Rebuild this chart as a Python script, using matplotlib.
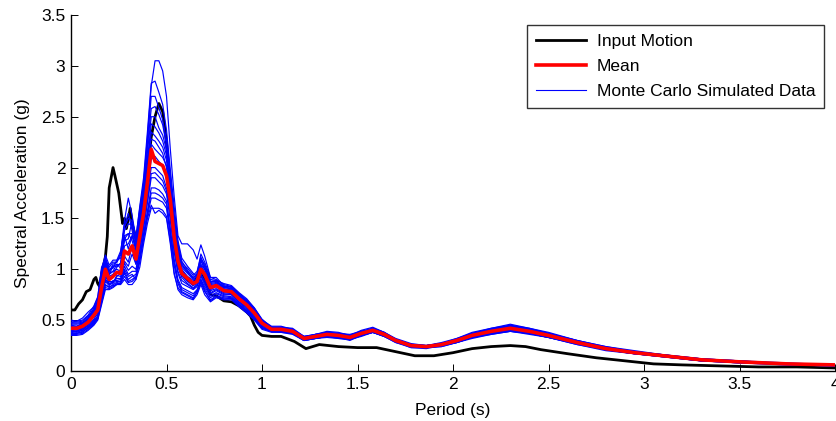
import matplotlib
matplotlib.use('Agg')
import matplotlib.pyplot as plt
import numpy as np
from matplotlib.lines import Line2D

plt.rcParams['font.family'] = ['Liberation Sans', 'DejaVu Sans']

# ---------------- data ----------------
period = [0.00, 0.03, 0.06, 0.09, 0.12, 0.14, 0.16, 0.18, 0.20, 0.22,
          0.24, 0.26, 0.28, 0.30, 0.32, 0.34, 0.36, 0.38, 0.40, 0.42,
          0.44, 0.46, 0.48, 0.50, 0.52, 0.54, 0.56, 0.58, 0.61, 0.64,
          0.66, 0.68, 0.70, 0.73, 0.76, 0.80, 0.84, 0.88, 0.92, 0.96,
          1.00,
          1.05, 1.10, 1.16, 1.22, 1.28, 1.34, 1.40, 1.46, 1.52, 1.58,
          1.64, 1.70, 1.78, 1.86, 1.94, 2.02, 2.10, 2.20, 2.30, 2.40,
          2.50, 2.65, 2.80, 2.95, 3.10, 3.30, 3.50, 3.75, 4.00]

mean_sa = [0.42, 0.42, 0.44, 0.48, 0.55, 0.60, 0.82, 1.00, 0.90, 0.93,
           0.97, 0.96, 1.18, 1.15, 1.23, 1.10, 1.32, 1.55, 1.85, 2.18,
           2.06, 2.04, 2.02, 1.92, 1.68, 1.32, 1.08, 0.96, 0.91, 0.86,
           0.88, 1.00, 0.95, 0.82, 0.84, 0.79, 0.78, 0.71, 0.65, 0.57,
           0.47,
           0.41, 0.41, 0.39, 0.32, 0.34, 0.36, 0.35, 0.33, 0.37, 0.40,
           0.36, 0.30, 0.25, 0.24, 0.26, 0.30, 0.35, 0.39, 0.42, 0.39,
           0.35, 0.28, 0.22, 0.18, 0.15, 0.11, 0.09, 0.07, 0.06]

input_period = [0.00, 0.02, 0.04, 0.06, 0.08, 0.10, 0.12, 0.13, 0.14, 0.15,
                0.16, 0.18, 0.19, 0.20, 0.22, 0.23, 0.25, 0.27, 0.28, 0.29,
                0.31, 0.32, 0.34, 0.36, 0.38, 0.40, 0.42, 0.44, 0.46, 0.48,
                0.50, 0.52, 0.54, 0.56, 0.58, 0.61, 0.64, 0.66, 0.68, 0.70,
                0.73, 0.76, 0.80, 0.84, 0.88, 0.92, 0.94, 0.96, 0.98, 1.00,
                1.05, 1.10, 1.17, 1.23, 1.30, 1.40, 1.50, 1.60, 1.70, 1.80,
                1.90, 2.00, 2.10, 2.20, 2.30, 2.38, 2.46, 2.60, 2.75, 2.90,
                3.05, 3.20, 3.40, 3.60, 3.80, 4.00]
input_sa = [0.60, 0.60, 0.66, 0.70, 0.78, 0.80, 0.90, 0.92, 0.86, 0.83,
            0.95, 1.12, 1.32, 1.80, 2.00, 1.92, 1.75, 1.45, 1.50, 1.40,
            1.60, 1.45, 1.30, 1.45, 1.70, 1.95, 2.30, 2.50, 2.63, 2.55,
            2.25, 1.80, 1.35, 1.05, 0.95, 0.90, 0.85, 0.92, 1.00, 0.90,
            0.75, 0.74, 0.69, 0.68, 0.64, 0.58, 0.54, 0.45, 0.38, 0.35,
            0.34, 0.34, 0.29, 0.22, 0.26, 0.24, 0.23, 0.23, 0.19, 0.15,
            0.15, 0.18, 0.22, 0.24, 0.25, 0.24, 0.21, 0.17, 0.13, 0.10,
            0.07, 0.06, 0.05, 0.04, 0.04, 0.03]

# Monte Carlo simulated spectra, as offsets from the mean at each period
sim01 = [0.06, 0.06, 0.05, 0.06, 0.05, 0.08, 0.10, 0.05, 0.08, 0.10, 0.06, 0.10, 0.15, 0.20, 0.12, 0.10, 0.20, 0.30, 0.45, 0.62, 0.99, 1.01, 0.93, 0.78, 0.50, 0.40, 0.25, 0.29, 0.34, 0.33, 0.22, 0.24, 0.18, 0.10, 0.06, 0.06, 0.05, 0.05, 0.04, 0.04, 0.03,
         0.03, 0.03, 0.02, 0.02, 0.02, 0.03, 0.03, 0.02, 0.03, 0.03, 0.02, 0.02, 0.02, 0.01, 0.02, 0.02, 0.03, 0.03, 0.03, 0.03, 0.02, 0.02, 0.02, 0.01, 0.01, 0.01, 0.01, 0.00, -0.01]
sim02 = [0.08, 0.07, 0.08, 0.10, 0.08, 0.12, 0.20, 0.10, 0.12, 0.14, 0.10, 0.20, 0.30, 0.55, 0.30, 0.20, 0.30, 0.35, 0.50, 0.65, 0.79, 0.70, 0.60, 0.45, 0.30, 0.30, 0.20, 0.15, 0.12, 0.10, 0.05, 0.10, 0.10, 0.08, 0.05, 0.07, 0.06, 0.06, 0.06, 0.05, 0.04,
         0.02, 0.02, 0.03, 0.02, 0.02, 0.02, 0.02, 0.03, 0.02, 0.02, 0.02, 0.01, 0.01, 0.01, 0.01, 0.02, 0.02, 0.03, 0.04, 0.03, 0.03, 0.02, 0.02, 0.02, 0.01, 0.01, 0.01, 0.01, 0.00]
sim03 = [-0.02, -0.01, 0.00, 0.02, 0.03, 0.05, 0.10, 0.12, 0.05, 0.05, 0.08, 0.05, 0.20, 0.30, 0.20, 0.15, 0.25, 0.25, 0.40, 0.52, 0.64, 0.55, 0.45, 0.35, 0.25, 0.20, 0.18, 0.12, 0.08, 0.05, 0.08, 0.15, 0.12, 0.10, 0.08, 0.05, 0.04, 0.05, 0.05, 0.05, 0.03,
         0.01, 0.01, 0.02, 0.01, 0.01, 0.02, 0.01, 0.01, 0.02, 0.01, 0.01, 0.01, 0.01, 0.01, 0.01, 0.01, 0.02, 0.02, 0.02, 0.02, 0.02, 0.01, 0.01, 0.01, 0.01, 0.00, 0.00, 0.00, 0.00]
sim04 = [0.04, 0.04, 0.03, 0.05, 0.07, 0.08, 0.15, 0.10, 0.10, 0.08, 0.12, 0.15, 0.10, 0.15, 0.25, 0.18, 0.15, 0.20, 0.30, 0.32, 0.44, 0.35, 0.30, 0.25, 0.15, 0.15, 0.10, 0.10, 0.10, 0.08, 0.10, 0.12, 0.08, 0.06, 0.05, 0.04, 0.05, 0.04, 0.03, 0.03, 0.02,
         0.02, 0.01, 0.01, 0.02, 0.01, 0.01, 0.02, 0.02, 0.01, 0.02, 0.01, 0.01, 0.00, 0.01, 0.01, 0.01, 0.01, 0.02, 0.02, 0.02, 0.01, 0.01, 0.01, 0.01, 0.00, 0.01, 0.00, 0.00, 0.00]
sim05 = [0.02, 0.02, 0.03, 0.03, 0.02, 0.04, 0.05, 0.08, 0.06, 0.05, 0.03, 0.02, 0.05, 0.10, 0.10, 0.08, 0.10, 0.12, 0.15, 0.17, 0.25, 0.22, 0.18, 0.15, 0.10, 0.10, 0.08, 0.06, 0.05, 0.04, 0.05, 0.05, 0.05, 0.04, 0.03, 0.03, 0.03, 0.02, 0.03, 0.02, 0.01,
         0.01, 0.01, 0.00, 0.01, 0.01, 0.00, 0.01, 0.00, 0.01, 0.01, 0.00, 0.00, 0.01, 0.00, 0.00, 0.01, 0.01, 0.01, 0.01, 0.01, 0.01, 0.00, 0.01, 0.00, 0.00, 0.00, 0.00, 0.00, 0.00]
sim06 = [0.05, 0.05, 0.04, 0.03, 0.05, 0.10, 0.08, 0.02, 0.05, 0.10, 0.08, 0.08, 0.15, 0.05, 0.10, 0.12, 0.05, 0.08, 0.10, 0.05, 0.12, 0.10, 0.08, 0.10, 0.05, 0.05, 0.03, 0.04, 0.02, 0.03, 0.03, 0.04, 0.02, 0.03, 0.02, 0.02, 0.01, 0.02, 0.01, 0.01, 0.01,
         0.01, 0.01, 0.01, 0.00, 0.01, 0.01, 0.00, 0.01, 0.00, 0.01, 0.01, 0.00, 0.00, 0.01, 0.01, 0.00, 0.01, 0.00, 0.01, 0.01, 0.00, 0.01, 0.00, 0.00, 0.01, 0.00, 0.00, 0.00, 0.00]
sim07 = [-0.02, -0.03, -0.02, -0.03, -0.04, -0.03, -0.05, -0.08, -0.02, -0.05, -0.06, -0.05, -0.10, -0.12, -0.08, -0.05, -0.08, -0.10, -0.12, -0.18, -0.06, -0.08, -0.10, -0.12, -0.10, -0.08, -0.05, -0.04, -0.05, -0.04, -0.03, -0.05, -0.06, -0.03, -0.03, -0.02, -0.02, -0.03, -0.02, -0.02, -0.02,
         -0.01, -0.01, -0.01, 0.00, -0.01, -0.01, -0.01, -0.01, -0.01, 0.00, -0.01, -0.01, 0.00, 0.00, -0.01, -0.01, -0.01, -0.01, -0.01, -0.01, -0.01, 0.00, -0.01, 0.00, 0.00, 0.00, 0.00, 0.00, 0.00]
sim08 = [0.00, -0.01, -0.02, 0.00, -0.02, -0.05, -0.10, -0.12, -0.06, -0.04, -0.08, -0.06, -0.15, -0.20, -0.25, -0.12, -0.15, -0.15, -0.20, -0.28, -0.16, -0.18, -0.20, -0.18, -0.20, -0.15, -0.12, -0.10, -0.08, -0.06, -0.05, -0.07, -0.10, -0.06, -0.05, -0.04, -0.03, -0.04, -0.04, -0.03, -0.03,
         -0.01, -0.02, -0.01, -0.01, -0.01, -0.02, -0.01, -0.01, -0.02, -0.01, -0.01, -0.01, -0.01, -0.01, -0.01, -0.01, -0.02, -0.02, -0.02, -0.01, -0.01, -0.01, -0.01, -0.01, 0.00, -0.01, 0.00, 0.00, 0.00]
sim09 = [-0.05, -0.05, -0.06, -0.05, -0.07, -0.08, -0.12, -0.15, -0.08, -0.08, -0.10, -0.08, -0.20, -0.25, -0.30, -0.15, -0.20, -0.20, -0.28, -0.38, -0.26, -0.26, -0.28, -0.25, -0.28, -0.22, -0.18, -0.14, -0.12, -0.10, -0.08, -0.10, -0.12, -0.08, -0.07, -0.05, -0.05, -0.05, -0.05, -0.04, -0.04,
         -0.02, -0.02, -0.02, -0.01, -0.02, -0.02, -0.02, -0.02, -0.02, -0.02, -0.01, -0.01, -0.01, -0.01, -0.01, -0.02, -0.02, -0.02, -0.02, -0.02, -0.02, -0.01, -0.01, -0.01, -0.01, -0.01, 0.00, 0.00, 0.00]
sim10 = [-0.06, -0.06, -0.07, -0.07, -0.09, -0.09, -0.15, -0.18, -0.09, -0.10, -0.11, -0.10, -0.25, -0.28, -0.35, -0.18, -0.25, -0.25, -0.33, -0.48, -0.36, -0.36, -0.36, -0.32, -0.35, -0.28, -0.22, -0.18, -0.16, -0.14, -0.11, -0.13, -0.17, -0.12, -0.10, -0.07, -0.07, -0.07, -0.07, -0.06, -0.05,
         -0.02, -0.02, -0.02, -0.02, -0.02, -0.02, -0.03, -0.02, -0.02, -0.02, -0.02, -0.02, -0.01, -0.01, -0.02, -0.02, -0.02, -0.03, -0.03, -0.02, -0.02, -0.02, -0.01, -0.01, -0.01, -0.01, -0.01, -0.01, -0.01]
sim11 = [-0.07, -0.07, -0.08, -0.08, -0.10, -0.10, -0.17, -0.20, -0.10, -0.11, -0.12, -0.11, -0.28, -0.30, -0.38, -0.20, -0.30, -0.30, -0.40, -0.58, -0.46, -0.44, -0.44, -0.40, -0.40, -0.35, -0.28, -0.21, -0.19, -0.16, -0.13, -0.15, -0.20, -0.14, -0.12, -0.09, -0.08, -0.08, -0.08, -0.07, -0.06,
         -0.03, -0.03, -0.02, -0.02, -0.02, -0.03, -0.03, -0.02, -0.03, -0.02, -0.02, -0.02, -0.02, -0.01, -0.02, -0.02, -0.03, -0.03, -0.03, -0.03, -0.02, -0.02, -0.02, -0.01, -0.01, -0.01, -0.01, -0.01, -0.01]
sim12 = [-0.04, -0.05, -0.05, -0.06, -0.08, -0.08, -0.05, -0.10, -0.04, -0.06, -0.09, -0.08, -0.18, -0.22, -0.28, -0.20, -0.20, -0.25, -0.35, -0.55, -0.51, -0.46, -0.47, -0.42, -0.43, -0.37, -0.26, -0.19, -0.17, -0.15, -0.10, -0.10, -0.16, -0.13, -0.11, -0.08, -0.07, -0.07, -0.07, -0.06, -0.05,
         -0.02, -0.03, -0.03, -0.02, -0.02, -0.02, -0.02, -0.03, -0.02, -0.02, -0.02, -0.01, -0.02, -0.02, -0.01, -0.02, -0.02, -0.02, -0.03, -0.02, -0.02, -0.01, -0.01, -0.01, -0.01, -0.01, -0.01, 0.00, -0.01]
sim13 = [0.03, 0.02, 0.02, 0.04, 0.05, 0.02, 0.00, 0.03, 0.08, 0.12, 0.10, 0.18, 0.25, 0.40, 0.15, 0.12, 0.22, 0.28, 0.35, 0.40, 0.54, 0.48, 0.40, 0.30, 0.20, 0.22, 0.15, 0.08, 0.06, 0.06, 0.06, 0.08, 0.05, 0.05, 0.04, 0.03, 0.03, 0.03, 0.03, 0.02, 0.02,
         0.02, 0.02, 0.02, 0.01, 0.02, 0.02, 0.02, 0.02, 0.01, 0.02, 0.02, 0.01, 0.01, 0.01, 0.01, 0.01, 0.02, 0.02, 0.03, 0.02, 0.02, 0.02, 0.01, 0.01, 0.01, 0.01, 0.01, 0.00, 0.00]
sim14 = [-0.03, -0.03, -0.04, -0.02, -0.01, 0.00, -0.03, -0.05, -0.04, -0.06, -0.04, 0.00, -0.05, -0.08, 0.00, -0.05, 0.00, 0.00, -0.05, -0.10, 0.05, 0.02, 0.00, -0.02, 0.00, 0.00, 0.00, -0.02, -0.03, -0.02, -0.02, -0.02, -0.03, -0.02, -0.01, -0.01, -0.01, -0.01, -0.01, -0.01, -0.01,
         0.00, -0.01, 0.00, 0.00, -0.01, 0.00, 0.00, 0.00, -0.01, 0.00, 0.00, 0.00, -0.01, 0.00, 0.00, 0.00, -0.01, 0.00, 0.00, 0.00, -0.01, 0.00, 0.00, 0.00, 0.00, 0.00, 0.00, 0.00, 0.00]
sim15 = [0.01, 0.00, 0.01, 0.02, 0.04, 0.06, 0.12, 0.06, 0.03, 0.02, 0.05, 0.10, 0.12, 0.20, 0.05, 0.05, 0.15, 0.18, 0.22, 0.25, 0.34, 0.30, 0.24, 0.20, 0.12, 0.12, 0.12, 0.09, 0.07, 0.06, 0.07, 0.09, 0.07, 0.06, 0.04, 0.04, 0.03, 0.03, 0.03, 0.03, 0.02,
         0.01, 0.02, 0.01, 0.01, 0.02, 0.01, 0.01, 0.01, 0.02, 0.01, 0.01, 0.01, 0.01, 0.00, 0.01, 0.01, 0.01, 0.01, 0.02, 0.01, 0.01, 0.01, 0.01, 0.00, 0.00, 0.00, 0.00, 0.00, 0.00]
sim16 = [-0.01, -0.02, -0.03, -0.04, -0.05, -0.06, -0.08, -0.10, -0.05, -0.07, -0.03, -0.03, -0.12, -0.16, -0.20, -0.10, -0.12, -0.12, -0.18, -0.24, -0.11, -0.13, -0.15, -0.15, -0.15, -0.12, -0.10, -0.07, -0.06, -0.05, -0.04, -0.06, -0.08, -0.05, -0.04, -0.03, -0.03, -0.03, -0.03, -0.02, -0.02,
         -0.01, -0.01, -0.01, -0.01, -0.01, -0.01, -0.01, -0.02, -0.01, -0.01, -0.01, -0.01, 0.00, -0.01, -0.01, -0.01, -0.01, -0.01, -0.02, -0.01, -0.01, -0.01, -0.01, 0.00, 0.00, 0.00, 0.00, 0.00, 0.00]
sim17 = [-0.03, -0.04, -0.04, -0.05, -0.06, -0.07, -0.13, -0.16, -0.07, -0.09, -0.12, -0.09, -0.22, -0.27, -0.33, -0.17, -0.22, -0.22, -0.30, -0.43, -0.31, -0.31, -0.32, -0.28, -0.31, -0.25, -0.20, -0.16, -0.14, -0.12, -0.09, -0.12, -0.14, -0.10, -0.08, -0.06, -0.06, -0.06, -0.06, -0.05, -0.04,
         -0.02, -0.02, -0.02, -0.02, -0.02, -0.02, -0.02, -0.02, -0.02, -0.02, -0.02, -0.01, -0.01, -0.01, -0.01, -0.01, -0.02, -0.02, -0.02, -0.02, -0.02, -0.01, -0.01, -0.01, -0.01, -0.01, -0.01, 0.00, 0.00]
sim18 = [0.06, 0.07, 0.06, 0.07, 0.09, 0.13, 0.18, 0.14, 0.14, 0.16, 0.12, 0.22, 0.24, 0.35, 0.25, 0.22, 0.28, 0.30, 0.25, 0.10, 0.20, 0.16, 0.12, 0.08, 0.05, 0.06, 0.05, 0.03, 0.01, 0.01, 0.02, 0.03, 0.01, 0.02, 0.01, 0.01, 0.02, 0.01, 0.02, 0.01, 0.01,
         0.01, 0.00, 0.01, 0.01, 0.00, 0.01, 0.01, 0.00, 0.01, 0.01, 0.00, 0.00, 0.01, 0.01, 0.00, 0.01, 0.00, 0.01, 0.01, 0.01, 0.00, 0.00, 0.01, 0.00, 0.00, 0.00, 0.00, 0.00, 0.00]

sims = [sim01, sim02, sim03, sim04, sim05, sim06, sim07, sim08, sim09,
        sim10, sim11, sim12, sim13, sim14, sim15, sim16, sim17, sim18]

x_ticks = [0, 0.5, 1, 1.5, 2, 2.5, 3, 3.5, 4]
y_ticks = [0, 0.5, 1, 1.5, 2, 2.5, 3, 3.5]

# ---------------- plot ----------------
FS = 12.5
fig = plt.figure(figsize=(8.36, 4.21), dpi=100)
ax = fig.add_axes([71 / 836, 50 / 421, 764 / 836, 356 / 421])

ax.plot(input_period, input_sa, color='black', lw=2.0, zorder=2)
mean_arr = np.array(mean_sa)
for s in sims:
    ax.plot(period, mean_arr + np.array(s), color=(0, 0, 1), lw=0.85, zorder=3)
ax.plot(period, mean_sa, color=(1, 0, 0), lw=2.6, zorder=4)

ax.set_xlim(0, 4)
ax.set_ylim(0, 3.5)
ax.set_xticks(x_ticks)
ax.set_xticklabels(['%g' % v for v in x_ticks])
ax.set_yticks(y_ticks)
ax.set_yticklabels(['%g' % v for v in y_ticks])
ax.tick_params(direction='in', length=5, width=0.7, labelsize=FS, pad=4,
               colors='black')
for side in ('top', 'right'):
    ax.spines[side].set_visible(False)
for side in ('left', 'bottom'):
    ax.spines[side].set_linewidth(1.0)

ax.set_xlabel('Period (s)', fontsize=FS, labelpad=8)
ax.set_ylabel('Spectral Acceleration (g)', fontsize=FS, labelpad=8)

handles = [Line2D([], [], color='black', lw=2.0),
           Line2D([], [], color=(1, 0, 0), lw=2.6),
           Line2D([], [], color=(0, 0, 1), lw=0.8)]
leg = ax.legend(handles, ['Input Motion', 'Mean', 'Monte Carlo Simulated Data'],
                loc='upper right', bbox_to_anchor=(0.9856, 0.972),
                borderaxespad=0, fontsize=FS, frameon=True, fancybox=False,
                handlelength=2.9, handletextpad=0.6, labelspacing=0.58,
                borderpad=0.5)
leg.get_frame().set_edgecolor('black')
leg.get_frame().set_linewidth(1.0)

fig.savefig('out.png', dpi=100)
